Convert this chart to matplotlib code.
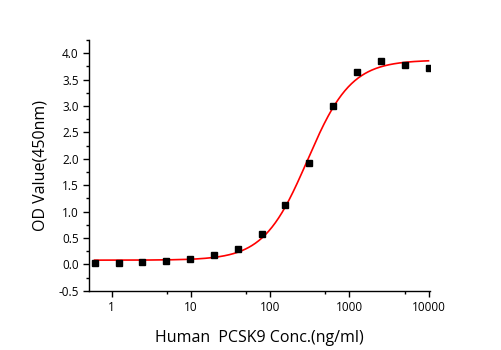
import numpy as np
import matplotlib
matplotlib.use("Agg")
import matplotlib.pyplot as plt
from matplotlib.ticker import FixedLocator, FixedFormatter, MultipleLocator

plt.rcParams['font.family'] = ['Open Sans', 'DejaVu Sans']
plt.rcParams['axes.unicode_minus'] = False

# 2-fold dilution series, ng/ml
conc = [0.61, 1.22, 2.44, 4.88, 9.77, 19.53, 39.06, 78.13, 156.25, 312.5,
        625, 1250, 2500, 5000, 10000]
od = [0.03, 0.03, 0.05, 0.06, 0.10, 0.17, 0.30, 0.58, 1.13, 1.92,
      2.99, 3.65, 3.85, 3.77, 3.71]

x = np.array(conc)
y = np.array(od)

# 4PL fit: grid over x0, p; A1/A2 by linear least squares
best = None
for x0 in np.logspace(2, 3, 200):
    for p in np.linspace(0.8, 2.5, 120):
        f = 1.0 / (1 + (x / x0) ** p)
        M = np.column_stack([f, 1 - f])
        coef, res, _, _ = np.linalg.lstsq(M, y, rcond=None)
        err = np.sum((M @ coef - y) ** 2)
        if best is None or err < best[0]:
            best = (err, x0, p, coef)
_, x0, p, (a1, a2) = best

xf = np.logspace(np.log10(conc[0]), np.log10(conc[-1]), 400)
yf = a2 + (a1 - a2) / (1 + (xf / x0) ** p)

fig = plt.figure(figsize=(5.01, 3.5), dpi=100)
ax = fig.add_axes([0.178, 0.169, 0.680, 0.717])

ax.plot(xf, yf, color='red', lw=1.2)
ax.plot(conc, od, 's', color='black', ms=4.5)

ax.set_xscale('log')
ax.set_xlim(0.52, 10400)
ax.set_ylim(-0.5, 4.25)

ax.xaxis.set_major_locator(FixedLocator([1, 10, 100, 1000, 10000]))
ax.xaxis.set_major_formatter(FixedFormatter(['1', '10', '100', '1000', '10000']))
ax.xaxis.set_minor_locator(FixedLocator([0.5, 5, 50, 500, 5000]))
ax.yaxis.set_major_locator(MultipleLocator(0.5))
ax.yaxis.set_minor_locator(MultipleLocator(0.25))
ax.yaxis.set_major_formatter(matplotlib.ticker.FormatStrFormatter('%.1f'))

for s in ['top', 'right']:
    ax.spines[s].set_visible(False)
for s in ['left', 'bottom']:
    ax.spines[s].set_linewidth(1.0)

ax.tick_params(which='major', direction='out', length=4, width=1, labelsize=8.5)
ax.tick_params(which='minor', direction='out', length=2.5, width=1)

ax.set_ylabel('OD Value(450nm)', fontsize=11.5, labelpad=7)
ax.set_xlabel('Human  PCSK9 Conc.(ng/ml)', fontsize=11.5, labelpad=11)

fig.savefig('out.png', dpi=100)
